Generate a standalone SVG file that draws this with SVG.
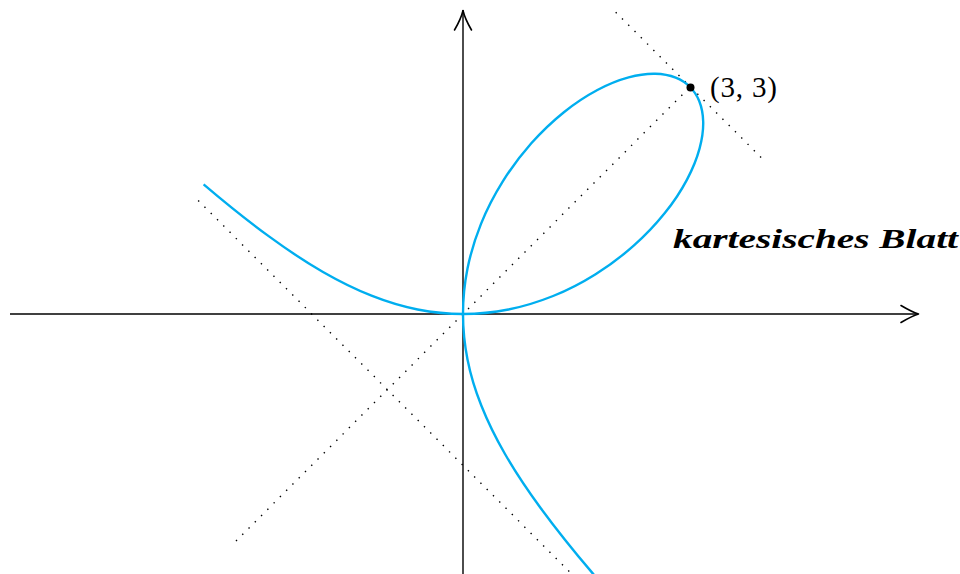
<svg xmlns="http://www.w3.org/2000/svg" width="960" height="574" viewBox="0 0 960 574">
<defs>
<style>
.axis{stroke:#000;stroke-width:1.4;fill:none}
.head{stroke:#000;stroke-width:1.6;fill:none;stroke-linecap:round;stroke-linejoin:round}
.dot{stroke:#000;stroke-width:1.4;fill:none;stroke-dasharray:1.4 7.47;stroke-linecap:butt}
.curve{stroke:#00AEEF;stroke-width:2.4;fill:none;stroke-linejoin:round}
.math{font-family:"Liberation Serif",serif;fill:#000}
</style>
</defs>
<rect width="960" height="574" fill="#fff"/>
<g id="connectors">
<g id="x-axis">
<line class="axis" x1="10" y1="314" x2="918" y2="314"/>
<path class="head" d="M901,305.5 Q912,312 918.5,314 Q912,316 901,322.5"/>
</g>
<g id="y-axis">
<line class="axis" x1="463" y1="574" x2="463" y2="10"/>
<path class="head" d="M454.5,30 Q461,19 463,10.5 Q465,19 471.5,30"/>
</g>
<line id="diagonal" class="dot" x1="236" y1="541" x2="690" y2="87"/>
<line id="tangent" class="dot" x1="615.7" y1="12.3" x2="765" y2="161.3"/>
<line id="asymptote" class="dot" x1="198.2" y1="200.5" x2="576.5" y2="578.8"/>
</g>
<g id="folium">
<path class="curve" d="M203.6,184.3 C228.3,205.3 249.5,222.1 269.0,236.4 C288.5,250.7 306.2,262.3 323.0,272.0 C339.9,281.7 355.9,289.5 371.5,295.7 C387.1,301.9 402.4,306.5 417.6,309.5 C432.8,312.5 447.9,314 463,314 C478.1,314 493.3,312.5 508.4,309.5 C523.5,306.5 538.4,301.9 553.1,296.0 C567.8,290.1 582.0,282.7 595.6,274.2 C609.2,265.7 622.0,256.1 633.7,245.7 C645.4,235.4 655.8,224.3 664.8,213.1 C673.8,201.9 681.2,190.6 687.0,179.6 C692.8,168.7 697.0,158.1 699.6,148.4 C702.2,138.7 703.4,129.7 703.2,121.8 C703.0,113.9 701.6,107.1 699.3,101.3 C697.0,95.5 693.8,90.8 690,87 C686.2,83.2 681.5,80.0 675.7,77.7 C669.9,75.4 663.1,74.0 655.2,73.8 C647.3,73.6 638.3,74.8 628.6,77.4 C618.9,80.0 608.4,84.2 597.4,90.0 C586.5,95.8 575.1,103.2 563.9,112.2 C552.7,121.2 541.7,131.6 531.3,143.3 C521.0,155.0 511.3,167.8 502.8,181.4 C494.3,195.0 486.9,209.2 481.0,223.9 C475.1,238.6 470.5,253.5 467.5,268.6 C464.5,283.7 463,298.9 463,314 C463,329.1 464.5,344.2 467.5,359.4 C470.5,374.6 475.1,389.9 481.3,405.5 C487.5,421.1 495.3,437.2 505.0,454.0 C514.7,470.9 526.3,488.5 540.6,508.0 C554.9,527.5 571.7,548.7 592.7,573.4 L594.5,575.5"/>
</g>
<g id="point-3-3">
<circle cx="690.5" cy="87.5" r="4" fill="#000"/>
<text class="math" x="710" y="97" font-size="29" textLength="67" lengthAdjust="spacing">(3, 3)</text>
</g>
<g id="label">
<text class="math" x="673" y="248" font-size="27" font-weight="bold" font-style="italic" textLength="285" lengthAdjust="spacingAndGlyphs">kartesisches Blatt</text>
</g>
</svg>
